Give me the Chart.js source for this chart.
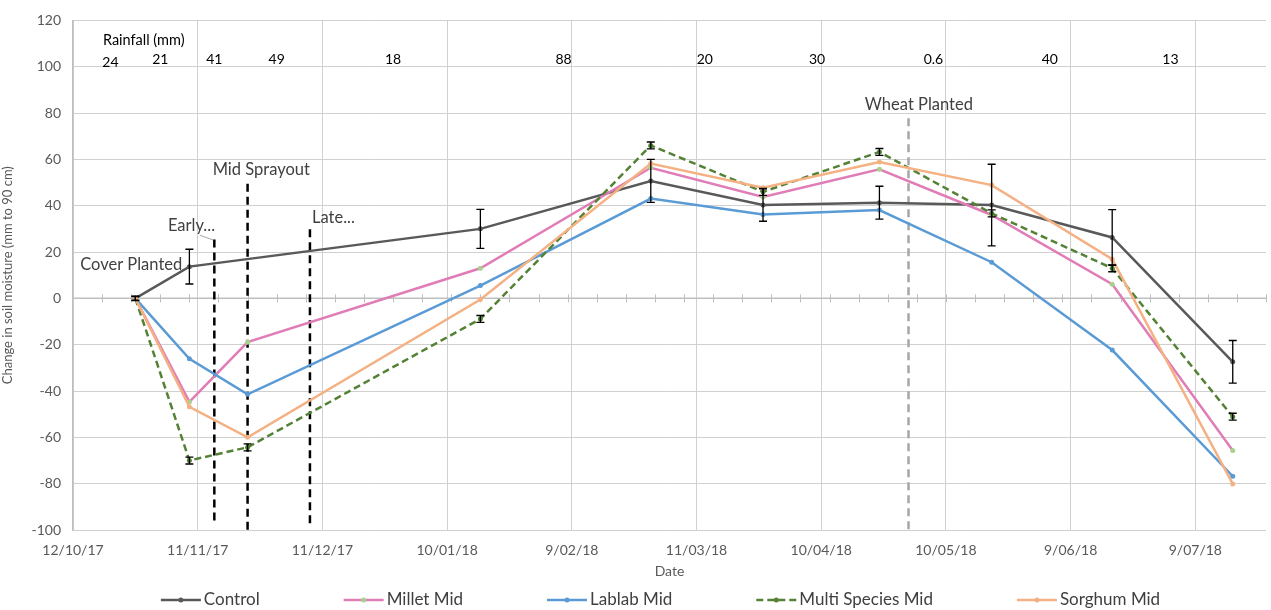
<!DOCTYPE html>
<html>
<head>
<meta charset="utf-8">
<script src="https://cdn.jsdelivr.net/npm/chart.js@4.4.0/dist/chart.umd.min.js"></script>
<style>
  html, body { margin: 0; padding: 0; background: #fff; }
</style>
</head>
<body>
<canvas id="soilChart" width="1271" height="610"></canvas>
<script>
// axis origin and sample dates
const startDate = '2017-10-12';
const axisDays = 287;
const sampleDates = ['2017-10-27', '2017-11-09', '2017-11-23', '2018-01-18', '2018-02-28',
                     '2018-03-27', '2018-04-24', '2018-05-21', '2018-06-19', '2018-07-18'];

// change in soil moisture (mm to 90 cm)
const control = [0, 13.7, null, 30, 50.7, 40.3, 41.3, 40.3, 26.3, -27.4];
const controlErr = [1, 7.5, null, 8.4, 9.3, 7, 7.1, 17.6, 12, 9.2];
const millet = [0, -44.7, -18.9, 13, 56.4, 43.8, 55.7, 36, 6.1, -65.7];
const lablab = [0, -26.1, -41.4, 5.5, 43.1, 36.2, 38.1, 15.6, -22.3, -76.8];
const multiSpecies = [0, -70, -64.3, -8.9, 66, 46, 63.2, 36.7, 13, -51.1];
const multiErr = [0.8, 1.5, 1.5, 1.5, 1.5, 1.5, 1.5, 1.5, 1.5, 1.5];
const sorghum = [0, -46.8, -60, -0.5, 58.2, 47.8, 58.9, 48.9, 16.9, -80.1];

// rainfall between samplings (mm)
const rainDates = ['2017-10-21', '2017-11-02', '2017-11-15', '2017-11-30', '2017-12-28',
                   '2018-02-07', '2018-03-13', '2018-04-09', '2018-05-07', '2018-06-04', '2018-07-03'];
const rainValues = ['24', '21', '41', '49', '18', '88', '20', '30', '0.6', '40', '13'];

// management events
const eventNames = ['Early...', 'Mid Sprayout', 'Late...', 'Wheat Planted'];
const eventDates = ['2017-11-15', '2017-11-23', '2017-12-08', '2018-05-01'];

function dayNum(s) {
    const p = s.split('-').map(Number);
    return Math.round(Date.UTC(p[0], p[1] - 1, p[2]) / 86400000);
}
const day0 = dayNum(startDate);
const xs = sampleDates.map(d => dayNum(d) - day0);

function toPoints(vals) {
    return vals.map((v, i) => ({ x: xs[i], y: v }));
}

function fmtDate(offset) {
    const d = new Date((day0 + offset) * 86400000);
    const mm = String(d.getUTCMonth() + 1).padStart(2, '0');
    const yy = String(d.getUTCFullYear()).slice(2);
    return d.getUTCDate() + '/' + mm + '/' + yy;
}

const FONT = 'Lato, "Open Sans", sans-serif';

// vertical event lines: top / bottom value and colour
const eventStyle = [
    { top: 25.4, bottom: -96.5, color: '#000000' },
    { top: 49.5, bottom: -100, color: '#000000' },
    { top: 29.8, bottom: -98.7, color: '#000000' },
    { top: 77.8, bottom: -100, color: '#a6a6a6' }
];

const overlays = {
    id: 'overlays',
    beforeDatasetsDraw(chart) {
        const ctx = chart.ctx;
        const x = chart.scales.x;
        const y = chart.scales.y;
        const y0 = y.getPixelForValue(0);
        ctx.save();
        // horizontal axis through zero with weekly ticks
        ctx.strokeStyle = '#bfbfbf';
        ctx.lineWidth = 1.5;
        ctx.beginPath();
        ctx.moveTo(x.left, y0);
        ctx.lineTo(x.right, y0);
        ctx.stroke();
        ctx.lineWidth = 1;
        for (let d = 7; d <= axisDays; d += 7) {
            const px = Math.round(x.getPixelForValue(d)) + 0.5;
            ctx.beginPath();
            ctx.moveTo(px, y0 - 4);
            ctx.lineTo(px, y0 + 4);
            ctx.stroke();
        }
        // event lines
        eventDates.forEach((d, i) => {
            const st = eventStyle[i];
            const px = x.getPixelForValue(dayNum(d) - day0);
            ctx.strokeStyle = st.color;
            ctx.lineWidth = 2.5;
            ctx.setLineDash([8, 5]);
            ctx.beginPath();
            ctx.moveTo(px, y.getPixelForValue(st.top));
            ctx.lineTo(px, y.getPixelForValue(st.bottom));
            ctx.stroke();
        });
        ctx.setLineDash([]);
        ctx.restore();
    },
    afterDatasetsDraw(chart) {
        const ctx = chart.ctx;
        const x = chart.scales.x;
        const y = chart.scales.y;
        ctx.save();
        // error bars
        function bars(vals, errs) {
            ctx.strokeStyle = '#000000';
            ctx.lineWidth = 1.3;
            vals.forEach((v, i) => {
                if (v === null || errs[i] === null) return;
                const px = x.getPixelForValue(xs[i]);
                const t = y.getPixelForValue(v + errs[i]);
                const b = y.getPixelForValue(v - errs[i]);
                ctx.beginPath();
                ctx.moveTo(px, t); ctx.lineTo(px, b);
                ctx.moveTo(px - 4, t); ctx.lineTo(px + 4, t);
                ctx.moveTo(px - 4, b); ctx.lineTo(px + 4, b);
                ctx.stroke();
            });
        }
        bars(control, controlErr);
        bars(multiSpecies, multiErr);

        // rainfall row
        ctx.fillStyle = '#000000';
        ctx.font = '14px ' + FONT;
        ctx.textAlign = 'center';
        ctx.textBaseline = 'middle';
        rainDates.forEach((d, i) => {
            ctx.fillText(rainValues[i], x.getPixelForValue(dayNum(d) - day0), y.getPixelForValue(i === 0 ? 101.8 : 103));
        });
        ctx.textAlign = 'left';
        ctx.font = '14.5px ' + FONT;
        ctx.fillText('Rainfall (mm)', x.getPixelForValue(7.2), y.getPixelForValue(111.5));

        // event labels
        ctx.fillStyle = '#404040';
        ctx.font = '16.5px ' + FONT;
        ctx.textAlign = 'center';
        ctx.fillText('Cover Planted', x.getPixelForValue(14), y.getPixelForValue(14.6));
        ctx.fillText(eventNames[0], x.getPixelForValue(28.5), y.getPixelForValue(31.4));
        ctx.fillText(eventNames[1], x.getPixelForValue(45.3), y.getPixelForValue(55.4));
        ctx.textAlign = 'left';
        ctx.fillText(eventNames[2], x.getPixelForValue(57.5), y.getPixelForValue(35));
        ctx.fillText(eventNames[3], x.getPixelForValue(190.5), y.getPixelForValue(83.5));
        // leader line for "Early..."
        ctx.strokeStyle = '#a6a6a6';
        ctx.lineWidth = 1;
        ctx.beginPath();
        ctx.moveTo(x.getPixelForValue(30.5), y.getPixelForValue(27.3));
        ctx.lineTo(x.getPixelForValue(33.7), y.getPixelForValue(25.2));
        ctx.stroke();
        ctx.restore();
    },
    afterDraw(chart) {
        // legend spread along the bottom, like the spreadsheet original
        const ctx = chart.ctx;
        const sets = chart.data.datasets;
        const area = chart.chartArea;
        const sample = 40, gapText = 3, gapItem = 84;
        ctx.save();
        ctx.font = '17px ' + FONT;
        const widths = sets.map(ds => ctx.measureText(ds.label).width);
        const total = widths.reduce((a, w) => a + w + sample + gapText, 0) + gapItem * (sets.length - 1);
        let px = (area.left + area.right) / 2 - 9 - total / 2;
        const py = 600;
        ctx.textBaseline = 'middle';
        ctx.textAlign = 'left';
        sets.forEach((ds, i) => {
            ctx.strokeStyle = ds.borderColor;
            ctx.lineWidth = 2.5;
            ctx.setLineDash(ds.borderDash || []);
            ctx.beginPath();
            ctx.moveTo(px, py);
            ctx.lineTo(px + sample, py);
            ctx.stroke();
            ctx.setLineDash([]);
            ctx.fillStyle = ds.pointBackgroundColor;
            ctx.beginPath();
            ctx.arc(px + sample / 2, py, 2.5, 0, Math.PI * 2);
            ctx.fill();
            ctx.fillStyle = '#404040';
            ctx.fillText(ds.label, px + sample + gapText, py);
            px += sample + gapText + widths[i] + gapItem;
        });
        ctx.restore();
    }
};

function series(label, vals, color, order, extra) {
    return Object.assign({
        label: label,
        data: toPoints(vals),
        borderColor: color,
        backgroundColor: color,
        borderWidth: 2.5,
        pointRadius: 2.5,
        pointBackgroundColor: color,
        pointBorderWidth: 0,
        tension: 0,
        spanGaps: true,
        order: order
    }, extra || {});
}

const ctx = document.getElementById('soilChart').getContext('2d');
const soilChart = new Chart(ctx, {
    type: 'line',
    data: {
        datasets: [
            series('Control', control, '#595959', 5),
            series('Millet Mid', millet, '#e07db7', 4, { pointBackgroundColor: '#a9d18e' }),
            series('Lablab Mid', lablab, '#5b9bd5', 3),
            series('Multi Species Mid', multiSpecies, '#548235', 2, { borderDash: [7, 4] }),
            series('Sorghum Mid', sorghum, '#f4b183', 1)
        ]
    },
    options: {
        responsive: false,
        animation: false,
        events: [],
        layout: { padding: { top: 8, right: 5, left: 0, bottom: 30 } },
        plugins: {
            tooltip: { enabled: false },
            legend: { display: false }
        },
        scales: {
            x: {
                type: 'linear',
                min: 0,
                max: axisDays,
                border: { display: false },
                grid: { color: '#d0d0d0', borderDash: [1, 2], drawTicks: false },
                ticks: {
                    stepSize: 30,
                    includeBounds: false,
                    autoSkip: false,
                    maxRotation: 0,
                    padding: 12,
                    color: '#595959',
                    font: { family: FONT, size: 14 },
                    callback: v => fmtDate(v)
                },
                title: {
                    display: true,
                    text: 'Date',
                    color: '#595959',
                    font: { family: FONT, size: 14 },
                    padding: { top: 0, bottom: 0 }
                },
                afterFit: s => { s.height = 50; }
            },
            y: {
                min: -100,
                max: 120,
                border: { color: '#bfbfbf', width: 1.5 },
                grid: { color: '#d0d0d0', borderDash: [1, 2], drawTicks: false },
                ticks: {
                    stepSize: 20,
                    padding: 12,
                    color: '#595959',
                    font: { family: FONT, size: 14 }
                },
                title: {
                    display: true,
                    text: 'Change in soil moisture (mm to 90 cm)',
                    color: '#595959',
                    font: { family: FONT, size: 13 },
                    padding: { top: 0, bottom: 4 }
                },
                afterFit: s => { s.width = 73; }
            }
        }
    },
    plugins: [overlays]
});
</script>
</body>
</html>
